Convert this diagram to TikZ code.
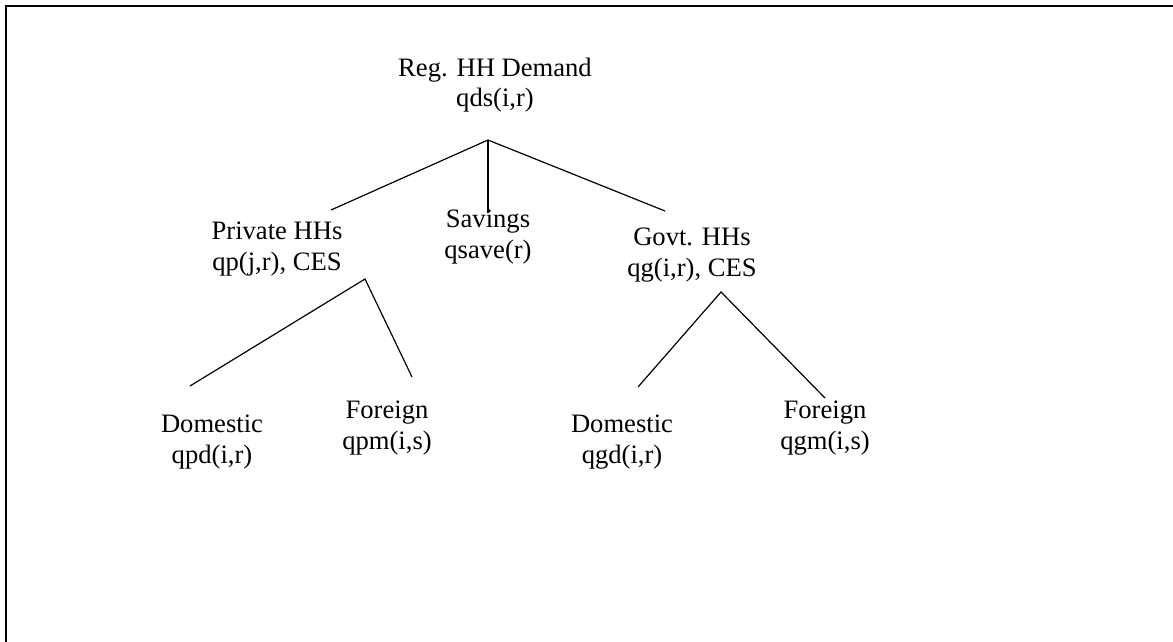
\documentclass[tikz,border=0pt]{standalone}
\usepackage{fontspec}
\setmainfont{Liberation Serif}
\usepackage{tikz}
\usetikzlibrary{positioning, calc}

\begin{document}
\begin{tikzpicture}[
  x=0.5pt, y=-0.5pt,
  every node/.style={font=\fontsize{13.3}{15.3}\selectfont},
  lbl/.style={align=center, inner sep=0pt, anchor=base},
  branch/.style={line width=0.6pt},
  frame/.style={line width=1pt},
]
  \useasboundingbox (0,0) rectangle (1173,642);
  \draw[frame] (6,642) |- (1173,6);

  % demand tree (base = baseline of second line)
  \node[lbl] (reg) at (495,107) {Reg. HH Demand\\qds(i,r)};
  \node[lbl] (priv) at (277,270) {Private HHs\\qp(j,r), CES};
  \node[lbl] (save) at (488,258) {Savings\\qsave(r)};
  \node[lbl] (govt) at (692,276) {Govt. HHs\\qg(i,r), CES};

  \node[lbl] (pdom) at (212,463) {Domestic\\qpd(i,r)};
  \node[lbl] (pfor) at (387,449) {Foreign\\qpm(i,s)};
  \node[lbl] (gdom) at (622,463) {Domestic\\qgd(i,r)};
  \node[lbl] (gfor) at (825,449) {Foreign\\qgm(i,s)};

  % fork points
  \coordinate (regfork) at (488,140);
  \coordinate (privtop) at (331,210);
  \coordinate (savetop) at (488,213);
  \coordinate (govttop) at (665,211);
  \coordinate (privfork) at (365,279);
  \coordinate (pdomtop) at (190,386);
  \coordinate (pfortop) at (412,377);
  \coordinate (govtfork) at (721,292);
  \coordinate (gdomtop) at (638,387);
  \coordinate (gfortop) at (825,398);

  \draw[branch] (privtop) -- (regfork) -- (govttop);
  \draw[branch] (regfork) -- (savetop);
  \draw[branch] (pdomtop) -- (privfork) -- (pfortop);
  \draw[branch] (gdomtop) -- (govtfork) -- (gfortop);
\end{tikzpicture}
\end{document}
